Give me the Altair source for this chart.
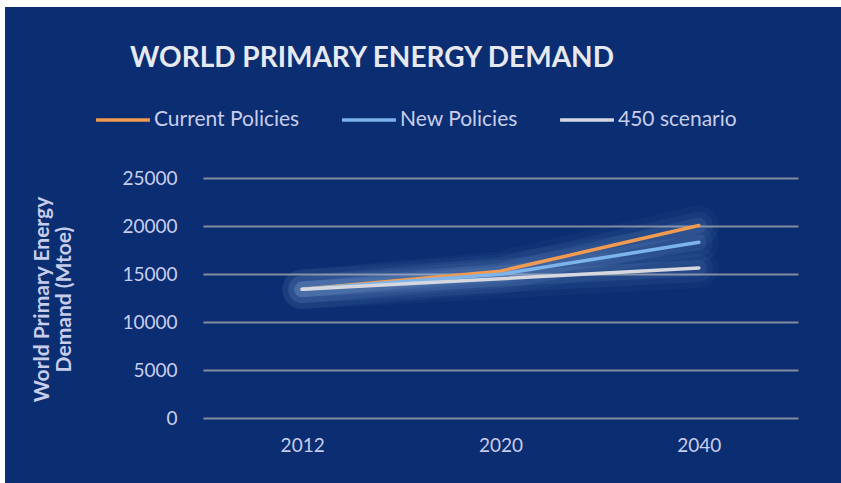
import altair as alt
import pandas as pd

years = ["2012", "2020", "2040"]
series = ["Current Policies", "New Policies", "450 scenario"]
current_policies = [13400, 15300, 20050]
new_policies = [13400, 14980, 18300]
scenario_450 = [13400, 14510, 15630]
colors = ["#F29A4F", "#7DB4EC", "#D6D7DF"]

rows = []
for name, vals in zip(series, [current_policies, new_policies, scenario_450]):
    for y, v in zip(years, vals):
        rows.append({"year": y, "series": name, "value": v})
df = pd.DataFrame(rows)

BG = "#0B2D72"
TXT = "#C8CDEB"

x_enc = alt.X("year:O", scale=alt.Scale(padding=0.5),
              axis=alt.Axis(title=None, labelAngle=0, domain=False, ticks=False,
                            labelFontSize=19, labelColor=TXT, labelPadding=18,
                            labelFont="Lato", grid=False))
y_enc = alt.Y("value:Q", scale=alt.Scale(domain=[0, 25000]),
              axis=alt.Axis(values=[0, 5000, 10000, 15000, 20000, 25000], format="d",
                            domain=False, ticks=False, grid=True, gridColor="#858A9C",
                            gridWidth=2, labelFontSize=19, labelColor=TXT,
                            labelPadding=26, labelFont="Lato",
                            title=["World Primary Energy", "Demand (Mtoe)"],
                            titleFont="Lato", titleFontSize=21, titleFontWeight="bold",
                            titleColor=TXT, titleX=-161, titleY=121,
                            titleAngle=270, titleBaseline="middle", titleAlign="center",
                            titleLineHeight=22))

base = alt.Chart(df)

glow_layers = []
for w, op in [(40, 0.04), (28, 0.06), (16, 0.09)]:
    glow_layers.append(
        base.mark_line(strokeWidth=w, opacity=op, color="#9CC3F0", strokeCap="round")
        .encode(x=x_enc, y=y_enc, detail="series:N")
    )

lines = base.mark_line(strokeWidth=3.5, strokeCap="round").encode(
    x=x_enc, y=y_enc,
    color=alt.Color("series:N", sort=series,
                    scale=alt.Scale(domain=series, range=colors),
                    legend=alt.Legend(title=None, orient="none", direction="horizontal",
                                      legendX=-109, legendY=-87, symbolType="stroke",
                                      symbolStrokeWidth=3.5, symbolSize=2900,
                                      labelFontSize=21, labelColor=TXT,
                                      labelFont="Lato", labelOffset=2,
                                      columnPadding=35)),
)

strip_top = alt.Chart(pd.DataFrame({"a": [0]})).mark_rect(color="#FFFFFF").encode(
    x=alt.value(-203), x2=alt.value(638), y=alt.value(-178), y2=alt.value(-171))
strip_left = alt.Chart(pd.DataFrame({"a": [0]})).mark_rect(color="#FFFFFF").encode(
    x=alt.value(-203), x2=alt.value(-198), y=alt.value(-178), y2=alt.value(305))

chart = alt.layer(*glow_layers, lines, strip_top, strip_left).properties(
    width=595, height=240,
    padding={"left": 203, "top": 178, "right": 43, "bottom": 65},
    autosize=alt.AutoSizeParams(type="none"),
    background=BG,
    title=alt.TitleParams("WORLD PRIMARY ENERGY DEMAND", anchor="start", frame="group",
                          dx=-73, offset=0, dy=95, baseline="alphabetic",
                          fontSize=28, font="Lato",
                          fontWeight="bold", color="#E6E8F2"),
).configure_view(stroke=None)

chart.save("out.html", embed_options={"renderer": "svg", "actions": False})
